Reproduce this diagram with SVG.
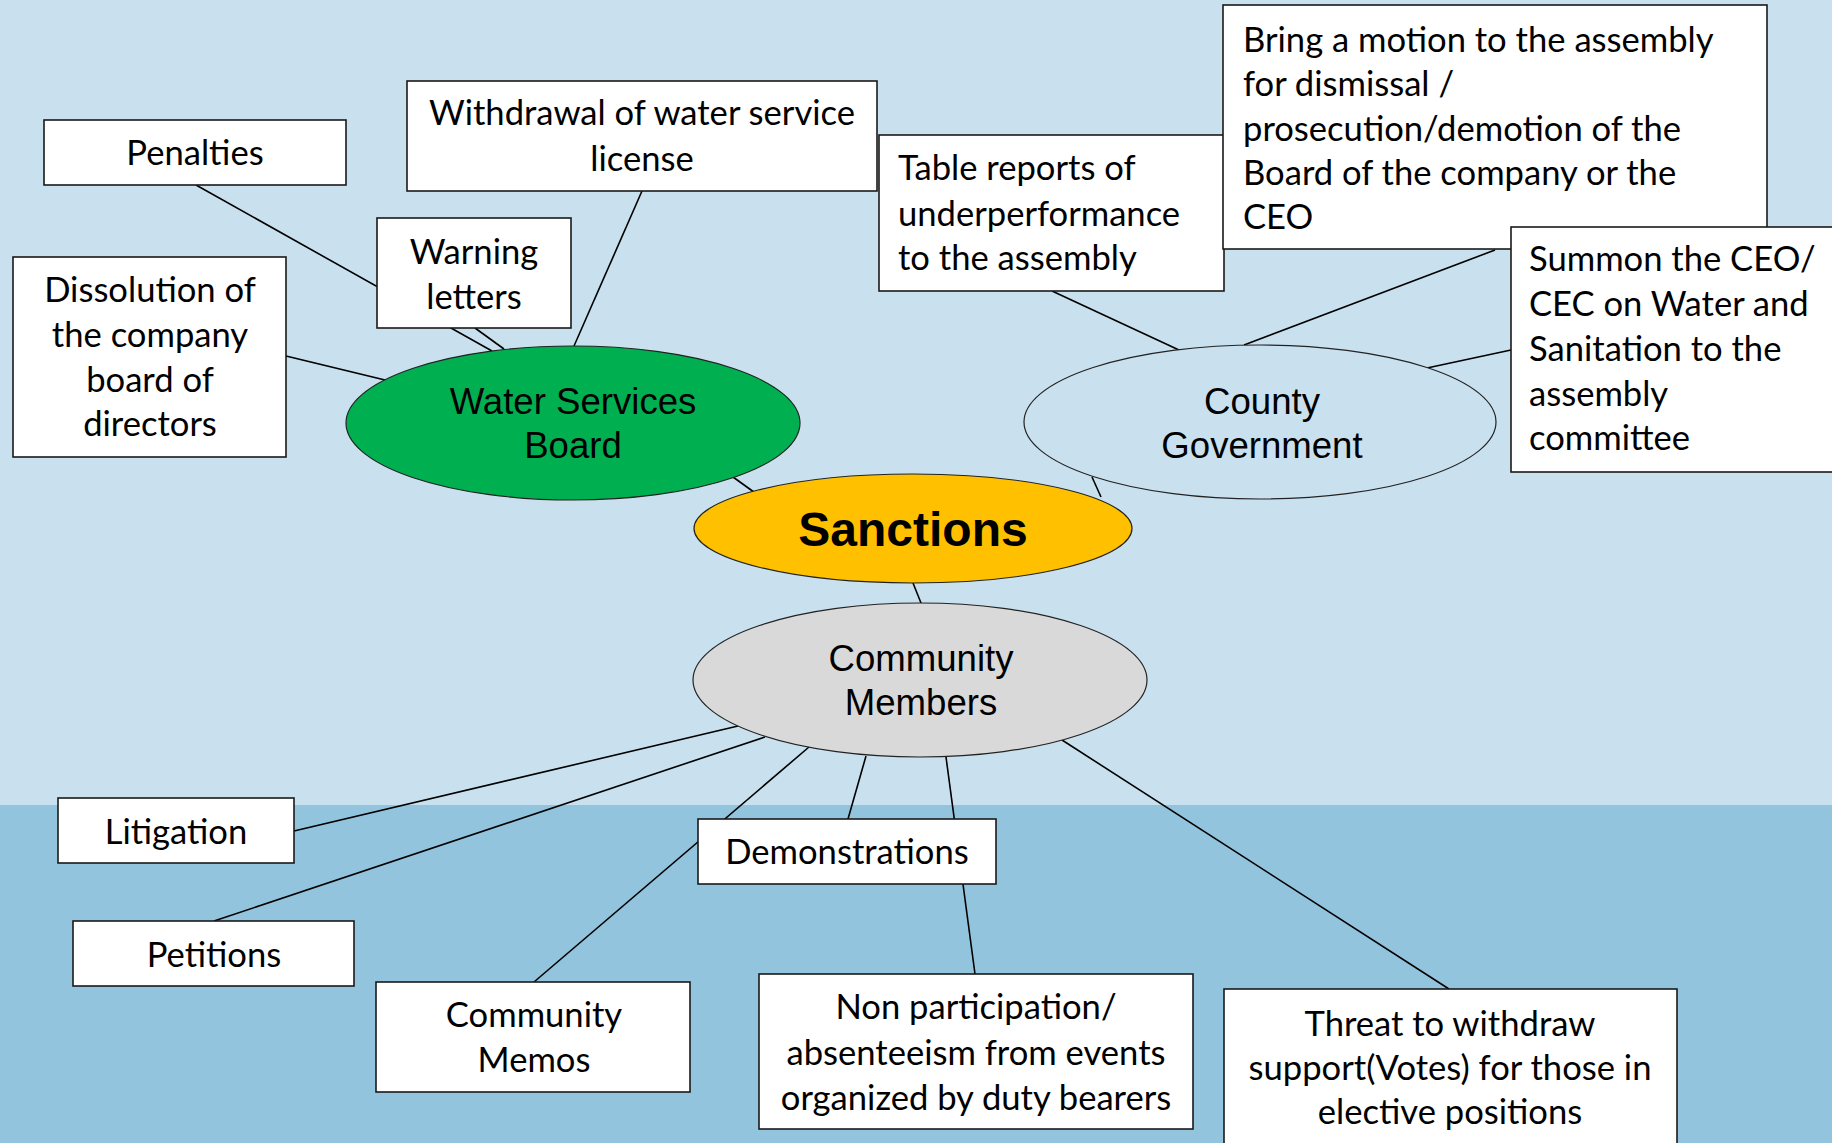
<svg xmlns="http://www.w3.org/2000/svg" width="1832" height="1143" viewBox="0 0 1832 1143">
<style>
.box{fill:#fff;stroke:#1a1a1a;stroke-width:1.6}
.ell{stroke:#222;stroke-width:1.2}
.t{font-family:Lato,"Liberation Sans",sans-serif;font-size:34.6px;fill:#000}
.c{text-anchor:middle}
.a{font-family:"Liberation Sans",Arial,sans-serif;font-size:36.6px;fill:#000;text-anchor:middle}
.con line{stroke:#000;stroke-width:1.6}
</style>
<rect x="0" y="0" width="1832" height="805" fill="#C9E1EE"/>
<rect x="0" y="805" width="1832" height="338" fill="#93C4DD"/>
<g id="connectors" class="con">
<line x1="286" y1="356" x2="385" y2="380"/>
<line x1="196" y1="185" x2="492" y2="351"/>
<line x1="475" y1="328" x2="504" y2="349"/>
<line x1="642" y1="191" x2="574" y2="346"/>
<line x1="733" y1="477" x2="758" y2="495"/>
<line x1="1052" y1="291" x2="1179" y2="350"/>
<line x1="1495" y1="250" x2="1244" y2="345"/>
<line x1="1511" y1="350" x2="1427" y2="368"/>
<line x1="1092" y1="477" x2="1101" y2="497"/>
<line x1="913" y1="583" x2="921" y2="603"/>
<line x1="294" y1="831" x2="738" y2="726"/>
<line x1="214" y1="921" x2="765" y2="737"/>
<line x1="809" y1="747" x2="534" y2="982"/>
<line x1="866" y1="756" x2="848" y2="819"/>
<line x1="946" y1="757" x2="975" y2="974"/>
<line x1="1062" y1="740" x2="1449" y2="989"/>
</g>
<g id="penalties"><rect class="box" x="44" y="120" width="302" height="65"/><text class="t c" x="195" y="165">Penalties</text></g>
<g id="withdrawal"><rect class="box" x="407" y="81" width="470" height="110"/><text class="t c" x="642" y="125">Withdrawal of water service</text><text class="t c" x="642" y="171">license</text></g>
<g id="warning"><rect class="box" x="377" y="218" width="194" height="110"/><text class="t c" x="474" y="264">Warning</text><text class="t c" x="474" y="309">letters</text></g>
<g id="dissolution"><rect class="box" x="13" y="257" width="273" height="200"/><text class="t c" x="150" y="302">Dissolution of</text><text class="t c" x="150" y="347">the company</text><text class="t c" x="150" y="392">board of</text><text class="t c" x="150" y="436">directors</text></g>
<g id="table-reports"><rect class="box" x="879" y="135" width="345" height="156"/><text class="t" x="898" y="180">Table reports of</text><text class="t" x="898" y="226">underperformance</text><text class="t" x="898" y="270">to the assembly</text></g>
<g id="motion"><rect class="box" x="1223" y="5" width="544" height="244"/><text class="t" x="1243" y="52">Bring a motion to the assembly</text><text class="t" x="1243" y="96">for dismissal /</text><text class="t" x="1243" y="141">prosecution/demotion of the</text><text class="t" x="1243" y="185">Board of the company or the</text><text class="t" x="1243" y="229">CEO</text></g>
<g id="summon"><rect class="box" x="1511" y="227" width="330" height="245"/><text class="t" x="1529" y="271">Summon the CEO/</text><text class="t" x="1529" y="316">CEC on Water and</text><text class="t" x="1529" y="361">Sanitation to the</text><text class="t" x="1529" y="406">assembly</text><text class="t" x="1529" y="450">committee</text></g>
<g id="water-services-board"><ellipse class="ell" cx="573" cy="423" rx="227" ry="77" fill="#00B050"/><text class="a" x="573" y="414">Water Services</text><text class="a" x="573" y="458">Board</text></g>
<g id="county-government"><ellipse class="ell" cx="1260" cy="422" rx="236" ry="77" fill="#C9E1EE"/><text class="a" x="1262" y="414">County</text><text class="a" x="1262" y="458">Government</text></g>
<g id="sanctions"><ellipse class="ell" cx="913" cy="528.5" rx="219" ry="54.5" fill="#FFC000"/><text x="913" y="546" text-anchor="middle" font-family="'Liberation Sans',Arial,sans-serif" font-weight="bold" font-size="48">Sanctions</text></g>
<g id="community-members"><ellipse class="ell" cx="920" cy="680" rx="227" ry="77" fill="#D9D9D9"/><text class="a" x="921" y="671">Community</text><text class="a" x="921" y="715">Members</text></g>
<g id="litigation"><rect class="box" x="58" y="798" width="236" height="65"/><text class="t c" x="176" y="844">Litigation</text></g>
<g id="petitions"><rect class="box" x="73" y="921" width="281" height="65"/><text class="t c" x="214" y="967">Petitions</text></g>
<g id="community-memos"><rect class="box" x="376" y="982" width="314" height="110"/><text class="t c" x="534" y="1027">Community</text><text class="t c" x="534" y="1072">Memos</text></g>
<g id="demonstrations"><rect class="box" x="698" y="819" width="298" height="65"/><text class="t c" x="847" y="864">Demonstrations</text></g>
<g id="non-participation"><rect class="box" x="759" y="974" width="434" height="155"/><text class="t c" x="976" y="1019">Non participation/</text><text class="t c" x="976" y="1065">absenteeism from events</text><text class="t c" x="976" y="1110">organized by duty bearers</text></g>
<g id="threat"><rect class="box" x="1224" y="989" width="453" height="170"/><text class="t c" x="1450" y="1036">Threat to withdraw</text><text class="t c" x="1450" y="1080">support(Votes) for those in</text><text class="t c" x="1450" y="1124">elective positions</text></g>
</svg>
